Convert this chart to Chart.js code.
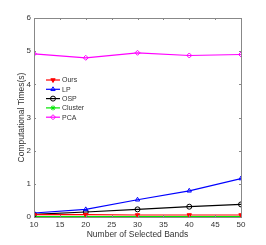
<!DOCTYPE html>
<html>
<head>
<meta charset="utf-8">
<script src="https://cdn.jsdelivr.net/npm/chart.js"></script>
<style>
  body { margin: 0; background: #fff; }
  #wrap { width: 266px; height: 245px; }
</style>
</head>
<body>
<div id="wrap"><canvas id="c" width="266" height="245"></canvas></div>
<script>
// number of selected bands
const bands = [10, 20, 30, 40, 50];
// computational times (s) per method
const ours = [0.07, 0.07, 0.06, 0.06, 0.06];
const lp = [0.12, 0.23, 0.52, 0.79, 1.16];
const osp = [0.08, 0.15, 0.23, 0.31, 0.38];
const cluster = [0.01, 0.01, 0.01, 0.01, 0.01];
const pca = [4.92, 4.80, 4.95, 4.87, 4.90];
const xTicks = [10, 15, 20, 25, 30, 35, 40, 45, 50];
const yTicks = [0, 1, 2, 3, 4, 5, 6];

const FONT = "'Liberation Sans Narrow', 'Liberation Sans', Arial, sans-serif";

function series(label, values, color, style, rot, fill) {
  return {
    label: label,
    data: bands.map((b, i) => ({ x: b, y: values[i] })),
    borderColor: color,
    backgroundColor: fill,
    borderWidth: 1.2,
    pointStyle: style,
    rotation: rot,
    pointRadius: 2.5,
    pointBorderWidth: 1,
    pointBorderColor: color,
    pointBackgroundColor: fill,
    tension: 0
  };
}

const datasets = [
  series("Ours", ours, "#ff0000", "triangle", 180, "#ff0000"),
  series("LP", lp, "#0000ff", "triangle", 0, "rgba(255,255,255,0)"),
  series("OSP", osp, "#000000", "circle", 0, "rgba(255,255,255,0)"),
  series("Cluster", cluster, "#00e600", "star", 0, "#00e600"),
  series("PCA", pca, "#ff00ff", "rectRot", 0, "rgba(255,255,255,0)")
];

// box, inward ticks (also on top / right) and the legend, matlab-like
const boxPlugin = {
  id: "box",
  afterDraw(chart) {
    const ctx = chart.ctx;
    const a = chart.chartArea;
    const xs = chart.scales.x, ys = chart.scales.y;
    ctx.save();
    ctx.strokeStyle = "#888";
    ctx.lineWidth = 1;
    ctx.strokeRect(a.left + 0.5, a.top + 0.5, a.right - a.left, a.bottom - a.top);
    ctx.beginPath();
    xTicks.forEach(t => {
      const px = Math.round(xs.getPixelForValue(t)) + 0.5;
      ctx.moveTo(px, a.bottom); ctx.lineTo(px, a.bottom - 2);
      ctx.moveTo(px, a.top); ctx.lineTo(px, a.top + 2);
    });
    yTicks.forEach(t => {
      const py = Math.round(ys.getPixelForValue(t)) + 0.5;
      ctx.moveTo(a.left, py); ctx.lineTo(a.left + 2, py);
      ctx.moveTo(a.right, py); ctx.lineTo(a.right - 2, py);
    });
    ctx.stroke();

    // legend
    ctx.font = "7px " + FONT;
    ctx.textBaseline = "middle";
    chart.data.datasets.forEach((d, i) => {
      const y = 80 + i * 9.3;
      ctx.strokeStyle = d.borderColor;
      ctx.lineWidth = 1.2;
      ctx.beginPath();
      ctx.moveTo(46, y); ctx.lineTo(60, y);
      ctx.stroke();
      ctx.fillStyle = d.pointBackgroundColor;
      ctx.strokeStyle = d.borderColor;
      ctx.lineWidth = 1;
      Chart.helpers.drawPoint(ctx, {
        pointStyle: d.pointStyle, rotation: d.rotation, radius: 2.5, borderWidth: 1
      }, 53, y);
      ctx.fillStyle = "#333";
      ctx.fillText(d.label, 62, y + 0.5);
    });
    ctx.restore();
  }
};

new Chart(document.getElementById("c"), {
  type: "line",
  data: { datasets: datasets },
  plugins: [boxPlugin],
  options: {
    responsive: false,
    animation: false,
    layout: { padding: { top: 18, right: 25, left: 0, bottom: 0 } },
    plugins: { legend: { display: false }, tooltip: { enabled: false } },
    scales: {
      x: {
        type: "linear", min: 10, max: 50,
        afterBuildTicks: s => { s.ticks = xTicks.map(v => ({ value: v })); },
        afterFit: s => { s.height = 28; },
        grid: { display: false, drawTicks: false },
        border: { display: false },
        ticks: { color: "#333", font: { size: 8, family: FONT }, padding: 3, maxRotation: 0 },
        title: { display: true, text: "Number of Selected Bands", color: "#333",
                 font: { size: 8.5, family: FONT }, padding: { top: 2, bottom: 5 } }
      },
      y: {
        type: "linear", min: 0, max: 6,
        afterBuildTicks: s => { s.ticks = yTicks.map(v => ({ value: v })); },
        afterFit: s => { s.width = 34; },
        grid: { display: false, drawTicks: false },
        border: { display: false },
        ticks: { color: "#333", font: { size: 8, family: FONT }, padding: 3 },
        title: { display: true, text: "Computational Times(s)", color: "#333",
                 font: { size: 8.5, family: FONT }, padding: { top: 17, bottom: 0 } }
      }
    }
  }
});
</script>
</body>
</html>
